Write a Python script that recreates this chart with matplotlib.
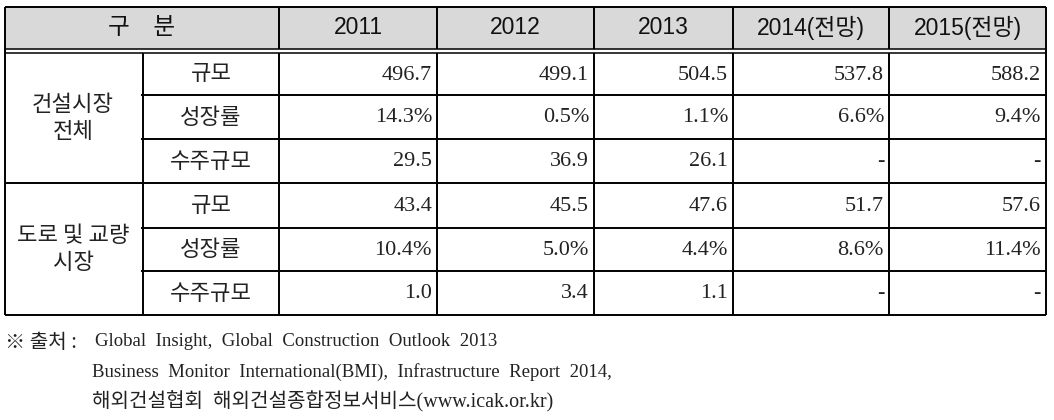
import matplotlib
matplotlib.use("Agg")
import matplotlib.pyplot as plt
from matplotlib.patches import Rectangle
from matplotlib import font_manager as fm

# ---------------- data ----------------
years = ["2011", "2012", "2013", "2014(전망)", "2015(전망)"]
header_label = "구\u3000분"
groups = ["건설시장\n전체", "도로 및 교량\n시장"]
items = ["규모", "성장률", "수주규모"]

total_size = [496.7, 499.1, 504.5, 537.8, 588.2]
total_growth = [14.3, 0.5, 1.1, 6.6, 9.4]
total_orders = [29.5, 36.9, 26.1, None, None]

road_size = [43.4, 45.5, 47.6, 51.7, 57.6]
road_growth = [10.4, 5.0, 4.4, 8.6, 11.4]
road_orders = [1.0, 3.4, 1.1, None, None]

notes_prefix = "※ 출처 :"
notes = [
    "Global  Insight,  Global  Construction  Outlook  2013",
    "Business  Monitor  International(BMI),  Infrastructure  Report  2014,",
    "해외건설협회  해외건설종합정보서비스(www.icak.or.kr)",
]

# ---------------- fonts ----------------
avail = {f.name for f in fm.fontManager.ttflist}
KR = "Noto Sans CJK KR"
sans_narrow = "Liberation Sans Narrow" if "Liberation Sans Narrow" in avail else "Liberation Sans"
SERIF = ["Liberation Serif", KR]
HEAD = [sans_narrow, KR]

# ---------------- layout ----------------
W, H = 1054, 420
fig = plt.figure(figsize=(W / 100, H / 100), dpi=100)
ax = fig.add_axes([0, 0, 1, 1])
ax.set_xlim(0, W)
ax.set_ylim(H, 0)
ax.axis("off")

col_x = [5, 143, 279, 437, 594, 733, 889, 1046]
head_top, head_bot, body_top = 7, 49, 53
row_y = [body_top, 95, 139, 183, 228, 271, 315]
lw = 1.4
lc = "#000000"

# header background
ax.add_patch(Rectangle((col_x[0], head_top), col_x[-1] - col_x[0], head_bot - head_top,
                       facecolor="#d9d9d9", edgecolor="none", zorder=0))

def hline(y, x0, x1, w=lw):
    ax.plot([x0, x1], [y, y], color=lc, lw=w, solid_capstyle="butt", zorder=3)

def vline(x, y0, y1, w=lw):
    ax.plot([x, x], [y0, y1], color=lc, lw=w, solid_capstyle="butt", zorder=3)

# outer frame
hline(head_top, col_x[0], col_x[-1])
hline(row_y[-1], col_x[0], col_x[-1])
vline(col_x[0], head_top, row_y[-1])
vline(col_x[-1], head_top, row_y[-1])
# double line under header
hline(head_bot, col_x[0], col_x[-1], 1.1)
hline(body_top, col_x[0], col_x[-1], 1.1)
# header vertical lines (skip between group/item)
for x in col_x[2:-1]:
    vline(x, head_top, head_bot)
for x in col_x[1:-1]:
    vline(x, body_top, row_y[-1])
# row lines
for i, y in enumerate(row_y[1:-1], start=1):
    if i == 3:
        hline(y, col_x[0], col_x[-1])
    else:
        hline(y, col_x[1] - 2, col_x[-1])

# header text
hy = (head_top + head_bot) / 2
ax.text((col_x[0] + col_x[2]) / 2, hy, header_label, family=KR, fontsize=17,
        ha="center", va="center", color="#111")
for j, yr in enumerate(years):
    cx = (col_x[j + 2] + col_x[j + 3]) / 2
    ax.text(cx, hy, yr, family=HEAD, fontsize=16.5, ha="center", va="center", color="#111")

# group labels
for g, lab in enumerate(groups):
    y0, y1 = row_y[g * 3], row_y[g * 3 + 3]
    ax.text((col_x[0] + col_x[1]) / 2 - 1, (y0 + y1) / 2, lab, family=KR, fontsize=16,
            ha="center", va="center", linespacing=1.2, color="#222")

# item labels and values
series = [total_size, total_growth, total_orders, road_size, road_growth, road_orders]
for r in range(6):
    cy = (row_y[r] + row_y[r + 1]) / 2
    ax.text((col_x[1] + col_x[2]) / 2, cy, items[r % 3], family=KR, fontsize=16,
            ha="center", va="center", color="#222")
    vals = series[r]
    for j, v in enumerate(vals):
        if v is None:
            s = "-"
        elif r % 3 == 1:
            s = f"{v:.1f}%"
        else:
            s = f"{v:.1f}"
        ax.text(col_x[j + 3] - 5, cy + 1, s, family=SERIF, fontsize=16,
                ha="right", va="center", color="#222")

# notes
ax.text(5, 342, notes_prefix, family=[KR], fontsize=14.5, ha="left", va="center", color="#222")
ax.text(95, 342, notes[0], family=SERIF, fontsize=13.5, ha="left", va="center", color="#222")
ax.text(92, 372, notes[1], family=SERIF, fontsize=13.5, ha="left", va="center", color="#222")
ax.text(92, 402, notes[2], family=SERIF, fontsize=14.5, ha="left", va="center", color="#222")

fig.savefig("out.png", dpi=100)
